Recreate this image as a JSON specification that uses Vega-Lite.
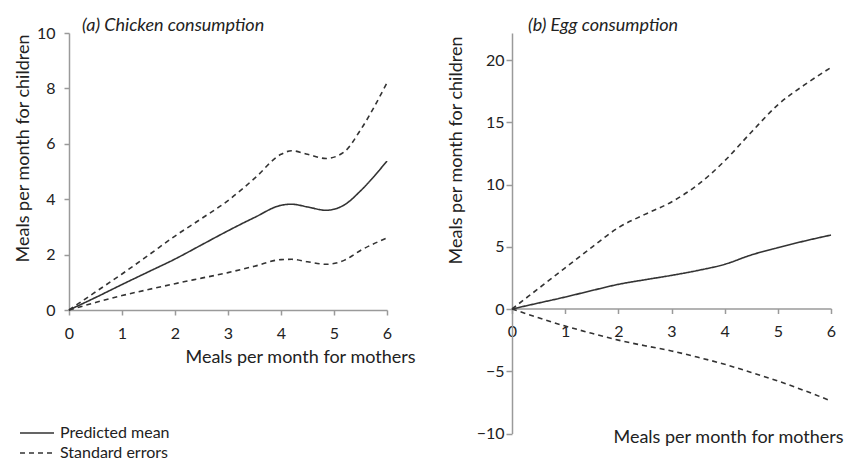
{
 "$schema": "https://vega.github.io/schema/vega-lite/v6.json",
 "padding": {"left": 13, "top": 17, "right": 5, "bottom": 5},
 "autosize": {"type": "pad"},
 "bounds": "flush",
 "spacing": 125,
 "datasets": {
  "a": [
   {"l":"mean","s":"Predicted mean","x":0,"y":0},
   {"l":"mean","s":"Predicted mean","x":0.5,"y":0.45},
   {"l":"mean","s":"Predicted mean","x":1,"y":0.92},
   {"l":"mean","s":"Predicted mean","x":1.5,"y":1.38},
   {"l":"mean","s":"Predicted mean","x":2,"y":1.84},
   {"l":"mean","s":"Predicted mean","x":2.5,"y":2.35},
   {"l":"mean","s":"Predicted mean","x":3,"y":2.86},
   {"l":"mean","s":"Predicted mean","x":3.5,"y":3.34},
   {"l":"mean","s":"Predicted mean","x":4,"y":3.78},
   {"l":"mean","s":"Predicted mean","x":4.2,"y":3.82},
   {"l":"mean","s":"Predicted mean","x":4.5,"y":3.72},
   {"l":"mean","s":"Predicted mean","x":4.85,"y":3.6},
   {"l":"mean","s":"Predicted mean","x":5.2,"y":3.8},
   {"l":"mean","s":"Predicted mean","x":5.5,"y":4.3},
   {"l":"mean","s":"Predicted mean","x":6,"y":5.38},
   {"l":"upper","s":"Standard errors","x":0,"y":0},
   {"l":"upper","s":"Standard errors","x":0.5,"y":0.65},
   {"l":"upper","s":"Standard errors","x":1,"y":1.3},
   {"l":"upper","s":"Standard errors","x":1.5,"y":1.98},
   {"l":"upper","s":"Standard errors","x":2,"y":2.67},
   {"l":"upper","s":"Standard errors","x":2.5,"y":3.3},
   {"l":"upper","s":"Standard errors","x":3,"y":3.95},
   {"l":"upper","s":"Standard errors","x":3.5,"y":4.75},
   {"l":"upper","s":"Standard errors","x":4,"y":5.62},
   {"l":"upper","s":"Standard errors","x":4.2,"y":5.75},
   {"l":"upper","s":"Standard errors","x":4.5,"y":5.62},
   {"l":"upper","s":"Standard errors","x":4.85,"y":5.47},
   {"l":"upper","s":"Standard errors","x":5.2,"y":5.72},
   {"l":"upper","s":"Standard errors","x":5.5,"y":6.5},
   {"l":"upper","s":"Standard errors","x":6,"y":8.2},
   {"l":"lower","s":"Standard errors","x":0,"y":0},
   {"l":"lower","s":"Standard errors","x":0.5,"y":0.27},
   {"l":"lower","s":"Standard errors","x":1,"y":0.52},
   {"l":"lower","s":"Standard errors","x":1.5,"y":0.74},
   {"l":"lower","s":"Standard errors","x":2,"y":0.95},
   {"l":"lower","s":"Standard errors","x":2.5,"y":1.15},
   {"l":"lower","s":"Standard errors","x":3,"y":1.35},
   {"l":"lower","s":"Standard errors","x":3.5,"y":1.58},
   {"l":"lower","s":"Standard errors","x":4,"y":1.82},
   {"l":"lower","s":"Standard errors","x":4.2,"y":1.83},
   {"l":"lower","s":"Standard errors","x":4.5,"y":1.74},
   {"l":"lower","s":"Standard errors","x":4.85,"y":1.65},
   {"l":"lower","s":"Standard errors","x":5.2,"y":1.8},
   {"l":"lower","s":"Standard errors","x":5.5,"y":2.15},
   {"l":"lower","s":"Standard errors","x":6,"y":2.6}
  ],
  "b": [
   {"l":"mean","s":"Predicted mean","x":0,"y":0},
   {"l":"mean","s":"Predicted mean","x":0.5,"y":0.48},
   {"l":"mean","s":"Predicted mean","x":1,"y":0.96},
   {"l":"mean","s":"Predicted mean","x":1.5,"y":1.48},
   {"l":"mean","s":"Predicted mean","x":2,"y":1.98},
   {"l":"mean","s":"Predicted mean","x":2.5,"y":2.35},
   {"l":"mean","s":"Predicted mean","x":3,"y":2.7},
   {"l":"mean","s":"Predicted mean","x":3.5,"y":3.1},
   {"l":"mean","s":"Predicted mean","x":4,"y":3.59},
   {"l":"mean","s":"Predicted mean","x":4.5,"y":4.34},
   {"l":"mean","s":"Predicted mean","x":5,"y":4.93},
   {"l":"mean","s":"Predicted mean","x":5.5,"y":5.46},
   {"l":"mean","s":"Predicted mean","x":6,"y":5.94},
   {"l":"upper","s":"Standard errors","x":0,"y":0},
   {"l":"upper","s":"Standard errors","x":0.5,"y":1.65},
   {"l":"upper","s":"Standard errors","x":1,"y":3.3},
   {"l":"upper","s":"Standard errors","x":1.5,"y":4.95},
   {"l":"upper","s":"Standard errors","x":2,"y":6.53},
   {"l":"upper","s":"Standard errors","x":2.5,"y":7.6},
   {"l":"upper","s":"Standard errors","x":3,"y":8.6},
   {"l":"upper","s":"Standard errors","x":3.5,"y":10.0},
   {"l":"upper","s":"Standard errors","x":4,"y":11.9},
   {"l":"upper","s":"Standard errors","x":4.5,"y":14.2},
   {"l":"upper","s":"Standard errors","x":5,"y":16.4},
   {"l":"upper","s":"Standard errors","x":5.5,"y":18.0},
   {"l":"upper","s":"Standard errors","x":6,"y":19.4},
   {"l":"lower","s":"Standard errors","x":0,"y":0},
   {"l":"lower","s":"Standard errors","x":0.5,"y":-0.7},
   {"l":"lower","s":"Standard errors","x":1,"y":-1.37},
   {"l":"lower","s":"Standard errors","x":1.5,"y":-1.95},
   {"l":"lower","s":"Standard errors","x":2,"y":-2.5},
   {"l":"lower","s":"Standard errors","x":2.5,"y":-2.95},
   {"l":"lower","s":"Standard errors","x":3,"y":-3.37},
   {"l":"lower","s":"Standard errors","x":3.5,"y":-3.88},
   {"l":"lower","s":"Standard errors","x":4,"y":-4.44},
   {"l":"lower","s":"Standard errors","x":4.5,"y":-5.1},
   {"l":"lower","s":"Standard errors","x":5,"y":-5.78},
   {"l":"lower","s":"Standard errors","x":5.5,"y":-6.55},
   {"l":"lower","s":"Standard errors","x":6,"y":-7.39}
  ]
 },
 "hconcat": [
  {
   "width": 318,
   "height": 277,
   "title": {"text": "(a) Chicken consumption", "anchor": "start", "dx": 68, "offset": -10},
   "data": {"name": "a"},
   "mark": {"type": "line", "interpolate": "monotone", "stroke": "#333", "strokeWidth": 1.6},
   "encoding": {
    "x": {"field": "x", "type": "quantitative", "scale": {"domain": [0, 6]},
     "axis": {"values": [0,1,2,3,4,5,6], "title": "Meals per month for mothers", "titleX": 231, "titleY": 47, "titleAlign": "center", "titleBaseline": "middle", "labelPadding": 10, "labelFlush": false}},
    "y": {"field": "y", "type": "quantitative", "scale": {"domain": [0, 10]},
     "axis": {"values": [0,2,4,6,8,10], "title": "Meals per month for children", "titleX": -46, "titleY": 115, "titleAlign": "center", "titleBaseline": "middle", "labelPadding": 9}},
    "strokeDash": {"field": "s", "type": "nominal",
     "scale": {"domain": ["Predicted mean", "Standard errors"], "range": [[1, 0], [5, 4]]},
     "legend": {"orient": "none", "legendX": -50, "legendY": 390, "title": null, "symbolType": "stroke", "symbolSize": 1156, "symbolStrokeWidth": 1.5, "symbolStrokeColor": "#333", "labelFontSize": 16, "labelColor": "#222", "labelFont": "Lato", "rowPadding": 0, "clipHeight": 20, "labelOffset": 5}},
    "detail": {"field": "l"}
   }
  },
  {
   "width": 319,
   "height": 400.5,
   "title": {"text": "(b) Egg consumption", "anchor": "start", "dx": 81, "offset": -2},
   "data": {"name": "b"},
   "mark": {"type": "line", "interpolate": "monotone", "stroke": "#333", "strokeWidth": 1.6},
   "encoding": {
    "x": {"field": "x", "type": "quantitative", "scale": {"domain": [0, 6]},
     "axis": {"values": [0,1,2,3,4,5,6], "offset": -125, "title": "Meals per month for mothers", "titleX": 216, "titleY": 129, "titleAlign": "center", "titleBaseline": "middle", "labelPadding": 10, "labelFlush": false}},
    "y": {"field": "y", "type": "quantitative", "scale": {"domain": [-10, 22.17], "nice": false},
     "axis": {"values": [-10,-5,0,5,10,15,20], "title": "Meals per month for children", "titleX": -56, "titleY": 117, "titleAlign": "center", "titleBaseline": "middle", "labelPadding": 2, "tickSize": 6}},
    "strokeDash": {"field": "s", "type": "nominal", "legend": null},
    "detail": {"field": "l"}
   }
  }
 ],
 "config": {
  "view": {"stroke": null},
  "font": "Lato",
  "axis": {"domainColor": "#9a9a9a", "domainWidth": 1.5, "tickColor": "#9a9a9a", "tickWidth": 1.5, "tickSize": 5, "labelColor": "#222", "labelFontSize": 16, "labelFont": "Lato", "titleFont": "Lato", "titleFontSize": 18, "titleFontWeight": "normal", "titleColor": "#222", "grid": false},
  "title": {"font": "Lato", "fontSize": 18, "fontStyle": "italic", "fontWeight": "normal", "color": "#222"}
 }
}
